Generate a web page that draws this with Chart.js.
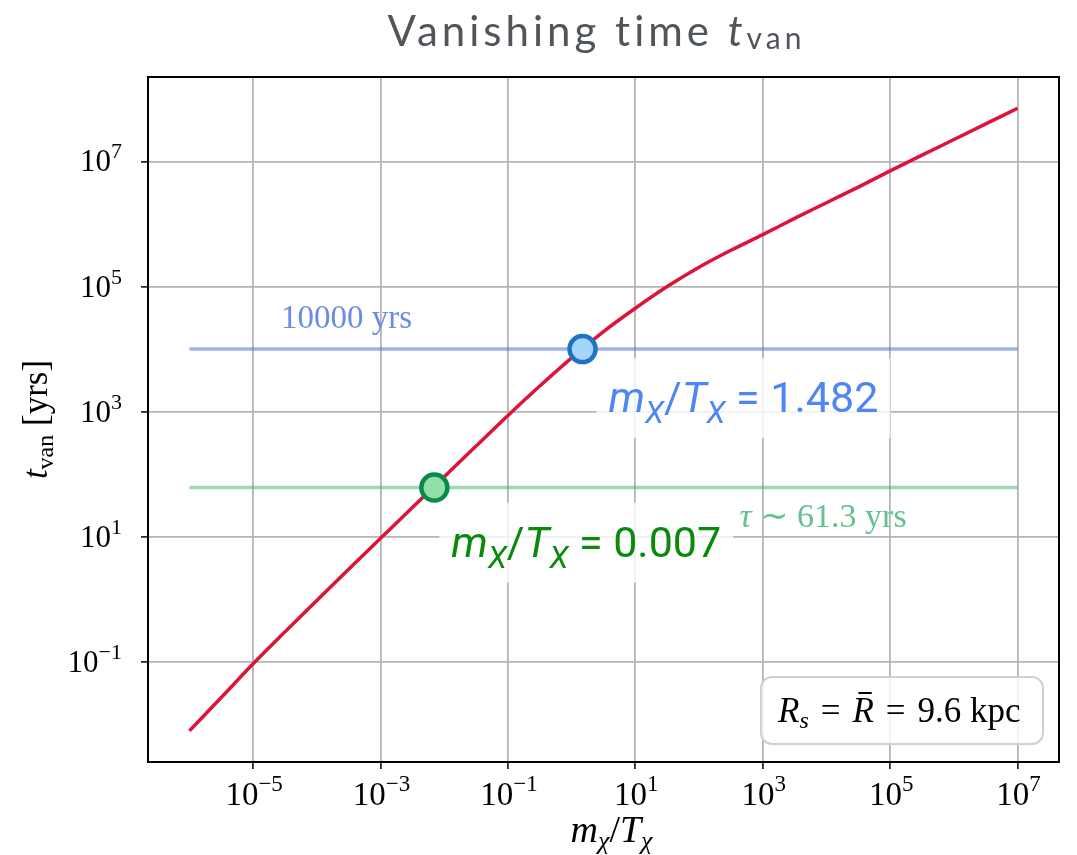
<!DOCTYPE html>
<html>
<head>
<meta charset="utf-8">
<title>Vanishing time</title>
<script src="https://cdn.jsdelivr.net/npm/chart.js@4.4.1/dist/chart.umd.min.js"></script>
<style>
  html, body { margin: 0; padding: 0; background: #fff; }
  #wrap { width: 1077px; height: 855px; }
</style>
</head>
<body>
<div id="wrap"><canvas id="vanChart" width="1077" height="855"></canvas></div>
<script>
// m_chi / T_chi samples (half decades) and vanishing time along the curve (yrs)
const massRatio = [1e-6, 3.16e-6, 1e-5, 3.16e-5, 1e-4, 3.16e-4, 1e-3, 3.16e-3, 1e-2, 3.16e-2, 1e-1, 0.316,
                   1, 3.16, 10, 31.6, 100, 316, 1e3, 3.16e3, 1e4, 3.16e4, 1e5, 3.16e5, 1e6, 3.16e6, 1e7];
const tVan = [0.0079, 0.0269, 0.0933, 0.302, 0.955, 3.02, 9.44, 29.5, 91.2, 282, 871, 2570,
              7240, 19100, 45100, 100000, 204000, 380000, 676000, 1.23e6, 2.19e6, 3.89e6, 7.08e6, 1.26e7, 2.24e7, 3.98e7, 7.08e7];

// horizontal reference lines
const lineSpan = [1e-6, 1e7];
const tenThousandYrs = 10000;
const tauYrs = 61.3;

// crossing points
const greenRatio = 0.007;
const blueRatio = 1.482;

const xTicks = [1e-5, 1e-3, 1e-1, 1e1, 1e3, 1e5, 1e7];
const yTicks = [1e-1, 1e1, 1e3, 1e5, 1e7];

const SERIF = '"Liberation Serif", "DejaVu Serif", serif';
const SANS = 'Roboto, "Noto Sans", sans-serif';
const TITLE_FONT = 'Lato, "Open Sans", sans-serif';

// draws a run of text pieces: [text, font, dy, color, extra, gapAfter]
function drawRich(ctx, parts, x, y, align) {
    let w = 0;
    parts.forEach(p => { ctx.font = p[1]; w += ctx.measureText(p[0]).width + (p[5] || 0); });
    let cx = align === 'center' ? x - w / 2 : (align === 'right' ? x - w : x);
    const left = cx;
    parts.forEach(p => {
        ctx.font = p[1];
        if (p[3]) ctx.fillStyle = p[3];
        ctx.fillText(p[0], cx, y + (p[2] || 0));
        const pw = ctx.measureText(p[0]).width;
        if (p[4] === 'bar') {
            ctx.fillRect(cx + pw * 0.28, y - 30, pw * 0.62, 2);
        }
        cx += pw + (p[5] || 0);
    });
    return { left: left, right: left + w };
}

function expText(v) {
    const e = Math.round(Math.log10(v));
    return e < 0 ? '\u2212' + Math.abs(e) : String(e);
}

function roundRect(ctx, x, y, w, h, r) {
    ctx.beginPath();
    ctx.moveTo(x + r, y);
    ctx.arcTo(x + w, y, x + w, y + h, r);
    ctx.arcTo(x + w, y + h, x, y + h, r);
    ctx.arcTo(x, y + h, x, y, r);
    ctx.arcTo(x, y, x + w, y, r);
    ctx.closePath();
}

const labelsPlugin = {
    id: 'vanLabels',
    afterDatasetsDraw(chart) {
        const ctx = chart.ctx;
        const xs = chart.scales.x, ys = chart.scales.y;
        const area = chart.chartArea;
        ctx.save();
        ctx.textBaseline = 'alphabetic';
        ctx.textAlign = 'left';

        // line labels
        ctx.fillStyle = '#6a8be8';
        ctx.font = '33px ' + SERIF;
        ctx.fillText('10000 yrs', xs.getPixelForValue(2.75e-5), ys.getPixelForValue(tenThousandYrs) - 21);

        drawRich(ctx, [
            ['\u03c4', 'italic 34px ' + SERIF, 0, '#63c28f'],
            [' \u223c 61.3 yrs', '34px ' + SERIF, 0]
        ], xs.getPixelForValue(430), ys.getPixelForValue(tauYrs) + 39, 'left');

        // boxed annotations next to the crossing points
        const notes = [
            { ratio: blueRatio, t: tenThousandYrs, dx: 26, dy: 63, color: '#4e87f5', value: '1.482' },
            { ratio: greenRatio, t: tauYrs, dx: 17, dy: 69, color: '#0a8a0a', value: '0.007' }
        ];
        notes.forEach(n => {
            const px = xs.getPixelForValue(n.ratio) + n.dx;
            const py = ys.getPixelForValue(n.t) + n.dy;
            const parts = [
                ['m', 'italic 43px ' + SANS, 0],
                ['X', 'italic 31px ' + SANS, 11],
                ['/', '43px ' + SANS, 0],
                ['T', 'italic 43px ' + SANS, 0],
                ['X', 'italic 31px ' + SANS, 11],
                [' = ' + n.value, '43px ' + SANS, 0]
            ];
            ctx.globalAlpha = 0;
            const ext = drawRich(ctx, parts, px, py, 'left');
            ctx.globalAlpha = 1;
            ctx.fillStyle = 'rgba(255,255,255,0.8)';
            ctx.fillRect(ext.left - 12, py - 54, ext.right - ext.left + 24, 80);
            ctx.fillStyle = n.color;
            drawRich(ctx, parts, px, py, 'left');
        });

        // legend-style box
        const bw = 282, bh = 67;
        const bx = area.right - 16 - bw, by = area.bottom - 18 - bh;
        roundRect(ctx, bx, by, bw, bh, 11);
        ctx.fillStyle = 'rgba(255,255,255,0.8)';
        ctx.fill();
        ctx.strokeStyle = '#d0d0d0';
        ctx.lineWidth = 2;
        ctx.stroke();
        ctx.fillStyle = '#000';
        drawRich(ctx, [
            ['R', 'italic 35px ' + SERIF, 0],
            ['s', 'italic 24px ' + SERIF, 6, null, null, 12],
            ['=', '35px ' + SERIF, 0, null, null, 12],
            ['R', 'italic 35px ' + SERIF, 0, null, 'bar', 12],
            ['=', '35px ' + SERIF, 0, null, null, 12],
            ['9.6 kpc', '35px ' + SERIF, 0]
        ], bx + 17, by + 45, 'left');
        ctx.restore();
    },
    afterDraw(chart) {
        const ctx = chart.ctx;
        const xs = chart.scales.x, ys = chart.scales.y;
        const area = chart.chartArea;
        ctx.save();

        // frame
        ctx.strokeStyle = '#000';
        ctx.lineWidth = 2;
        ctx.strokeRect(area.left, area.top, area.right - area.left, area.bottom - area.top);

        ctx.fillStyle = '#000';
        ctx.textBaseline = 'alphabetic';

        // tick labels
        xTicks.forEach(v => {
            drawRich(ctx, [
                ['10', '33px ' + SERIF, 0],
                [expText(v), '23px ' + SERIF, -14]
            ], xs.getPixelForValue(v) + 1, area.bottom + 43, 'center');
        });
        yTicks.forEach(v => {
            drawRich(ctx, [
                ['10', '31px ' + SERIF, 0],
                [expText(v), '22px ' + SERIF, -13]
            ], area.left - 26, ys.getPixelForValue(v) + 10, 'right');
        });

        // axis titles
        const cx = (area.left + area.right) / 2;
        drawRich(ctx, [
            ['m', 'italic 38px ' + SERIF, 0],
            ['\u03c7', 'italic 26px ' + SERIF, 7],
            ['/', '38px ' + SERIF, 0],
            ['T', 'italic 38px ' + SERIF, 0],
            ['\u03c7', 'italic 26px ' + SERIF, 7]
        ], cx + 8, area.bottom + 80, 'center');

        ctx.save();
        ctx.translate(47, (area.top + area.bottom) / 2);
        ctx.rotate(-Math.PI / 2);
        drawRich(ctx, [
            ['t', 'italic 35px ' + SERIF, 0],
            ['van', '24px ' + SERIF, 6],
            [' [yrs]', '35px ' + SERIF, 0]
        ], 0, 0, 'center');
        ctx.restore();

        // title, tracked out to its full width
        ctx.fillStyle = '#50555c';
        const titleParts = [
            ['Vanishing time ', '42px ' + TITLE_FONT, 0],
            ['t', 'italic 42px ' + TITLE_FONT, 0],
            ['van', '30px ' + TITLE_FONT, 3]
        ];
        ctx.letterSpacing = '0px';
        let tw = 0;
        titleParts.forEach(p => { ctx.font = p[1]; tw += ctx.measureText(p[0]).width; });
        const spacing = Math.max(0, Math.min(4, (423 - tw) / 19));
        ctx.letterSpacing = spacing.toFixed(2) + 'px';
        drawRich(ctx, titleParts, cx - 7, 46, 'center');
        ctx.letterSpacing = '0px';
        ctx.restore();
    }
};

const curvePoints = massRatio.map((r, i) => ({ x: r, y: tVan[i] }));

const ctx = document.getElementById('vanChart').getContext('2d');
const vanChart = new Chart(ctx, {
    type: 'line',
    data: {
        datasets: [
            {
                label: 'blue point',
                data: [{ x: blueRatio, y: tenThousandYrs }],
                showLine: false,
                pointRadius: 13,
                pointBorderWidth: 4.5,
                pointBackgroundColor: '#a6d4fa',
                pointBorderColor: '#1f72c4'
            },
            {
                label: 'green point',
                data: [{ x: greenRatio, y: tauYrs }],
                showLine: false,
                pointRadius: 13,
                pointBorderWidth: 4.5,
                pointBackgroundColor: '#93dfaa',
                pointBorderColor: '#0a8a4a'
            },
            {
                label: 't_van',
                data: curvePoints,
                borderColor: '#dc143c',
                borderWidth: 3.5,
                pointRadius: 0,
                cubicInterpolationMode: 'monotone',
                fill: false
            },
            {
                label: '10000 yrs',
                data: lineSpan.map(r => ({ x: r, y: tenThousandYrs })),
                borderColor: 'rgba(65,105,225,0.5)',
                borderWidth: 3.5,
                pointRadius: 0,
                fill: false
            },
            {
                label: 'tau',
                data: lineSpan.map(r => ({ x: r, y: tauYrs })),
                borderColor: 'rgba(60,179,113,0.5)',
                borderWidth: 3.5,
                pointRadius: 0,
                fill: false
            }
        ]
    },
    options: {
        responsive: false,
        animation: false,
        events: [],
        layout: { padding: { left: 141, top: 77, right: 18, bottom: 86 } },
        plugins: {
            legend: { display: false },
            tooltip: { enabled: false },
            title: { display: false }
        },
        scales: {
            x: {
                type: 'logarithmic',
                min: Math.pow(10, -6.65),
                max: Math.pow(10, 7.65),
                border: { display: false },
                grid: { color: '#b5b5b5', lineWidth: 1.8, tickColor: '#000', tickLength: 7, tickWidth: 1.5 },
                ticks: { display: false },
                afterBuildTicks: s => { s.ticks = xTicks.map(v => ({ value: v })); }
            },
            y: {
                type: 'logarithmic',
                min: Math.pow(10, -2.6),
                max: Math.pow(10, 8.35),
                border: { display: false },
                grid: { color: '#b5b5b5', lineWidth: 1.8, tickColor: '#000', tickLength: 7, tickWidth: 1.5 },
                ticks: { display: false },
                afterBuildTicks: s => { s.ticks = yTicks.map(v => ({ value: v })); }
            }
        }
    },
    plugins: [labelsPlugin]
});
</script>
</body>
</html>
